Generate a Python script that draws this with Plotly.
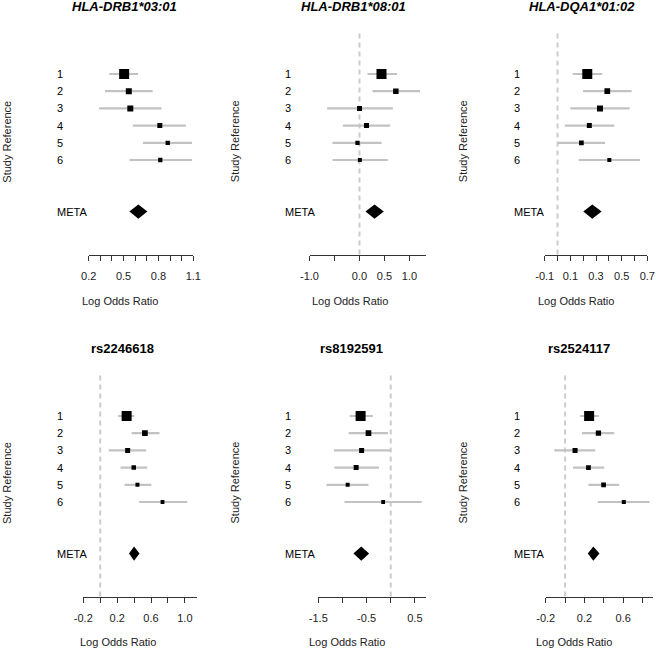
import plotly.graph_objects as go

W, H = 656, 650

# ---------------- data ----------------
titles = ["HLA-DRB1*03:01", "HLA-DRB1*08:01", "HLA-DQA1*01:02",
          "rs2246618", "rs8192591", "rs2524117"]
italic_title = [True, True, True, False, False, False]

study_labels = ["1", "2", "3", "4", "5", "6"]
meta_label = "META"
study_rows = [1, 2, 3, 4, 5, 6]
meta_row = 9

# panel 1: HLA-DRB1*03:01
p1_est = [0.505, 0.545, 0.558, 0.812, 0.880, 0.816]
p1_lo = [0.377, 0.340, 0.289, 0.579, 0.667, 0.551]
p1_hi = [0.625, 0.750, 0.827, 1.036, 1.089, 1.089]
p1_meta = [0.627, 0.550, 0.705]  # est, lo, hi

# panel 2: HLA-DRB1*08:01
p2_est = [0.44, 0.727, 0.0, 0.14, -0.04, 0.007]
p2_lo = [0.16, 0.26, -0.647, -0.333, -0.54, -0.54]
p2_hi = [0.75, 1.21, 0.667, 0.613, 0.44, 0.567]
p2_meta = [0.30, 0.12, 0.487]

# panel 3: HLA-DQA1*01:02
p3_est = [0.232, 0.388, 0.331, 0.248, 0.186, 0.404]
p3_lo = [0.118, 0.199, 0.100, 0.056, 0.004, 0.165]
p3_hi = [0.349, 0.578, 0.562, 0.443, 0.370, 0.643]
p3_meta = [0.271, 0.201, 0.344]

# panel 4: rs2246618
p4_est = [0.312, 0.528, 0.324, 0.396, 0.44, 0.736]
p4_lo = [0.212, 0.372, 0.10, 0.24, 0.288, 0.46]
p4_hi = [0.404, 0.70, 0.544, 0.556, 0.604, 1.028]
p4_meta = [0.40, 0.34, 0.464]

# panel 5: rs8192591
p5_est = [-0.624, -0.461, -0.603, -0.716, -0.892, -0.157]
p5_lo = [-0.85, -0.871, -1.175, -1.168, -1.33, -0.956]
p5_hi = [-0.369, -0.058, -0.002, -0.242, -0.461, 0.641]
p5_meta = [-0.61, -0.773, -0.447]

# panel 6: rs2524117
p6_est = [0.248, 0.344, 0.103, 0.241, 0.397, 0.606]
p6_lo = [0.156, 0.174, -0.11, 0.082, 0.241, 0.337]
p6_hi = [0.348, 0.507, 0.312, 0.404, 0.557, 0.872]
p6_meta = [0.291, 0.234, 0.355]

# axis ticks
p1_ticks = [0.2, 0.3, 0.4, 0.5, 0.6, 0.7, 0.8, 0.9, 1.0, 1.1]
p1_ticktext = ["0.2", "", "", "0.5", "", "", "0.8", "", "", "1.1"]
p2_ticks = [-1.0, -0.5, 0.0, 0.5, 1.0]
p2_ticktext = ["-1.0", "", "0.0", "0.5", "1.0"]
p3_ticks = [-0.1, 0.0, 0.1, 0.2, 0.3, 0.4, 0.5, 0.6, 0.7]
p3_ticktext = ["-0.1", "", "0.1", "", "0.3", "", "0.5", "", "0.7"]
p4_ticks = [-0.2, 0.0, 0.2, 0.4, 0.6, 0.8, 1.0]
p4_ticktext = ["-0.2", "", "0.2", "", "0.6", "", "1.0"]
p5_ticks = [-1.5, -1.0, -0.5, 0.0, 0.5]
p5_ticktext = ["-1.5", "", "-0.5", "", "0.5"]
p6_ticks = [-0.2, 0.0, 0.2, 0.4, 0.6, 0.8]
p6_ticktext = ["-0.2", "", "0.2", "", "0.6", ""]

x_ranges = [[0.2, 1.1], [-1.0, 1.33], [-0.1, 0.7], [-0.2, 1.14], [-1.5, 0.73], [-0.2, 0.91]]
null_value = 0.0

panels = [
    (p1_est, p1_lo, p1_hi, p1_meta, p1_ticks, p1_ticktext),
    (p2_est, p2_lo, p2_hi, p2_meta, p2_ticks, p2_ticktext),
    (p3_est, p3_lo, p3_hi, p3_meta, p3_ticks, p3_ticktext),
    (p4_est, p4_lo, p4_hi, p4_meta, p4_ticks, p4_ticktext),
    (p5_est, p5_lo, p5_hi, p5_meta, p5_ticks, p5_ticktext),
    (p6_est, p6_lo, p6_hi, p6_meta, p6_ticks, p6_ticktext),
]

# ---------------- styles / layout geometry (pixels) ----------------
box_sizes = [
    [10, 6, 6, 5, 4.3, 4.3],
    [10, 5.5, 5, 5, 4.3, 4],
    [10, 5.7, 6, 5, 4.7, 4],
    [10, 5.7, 5, 4.5, 4, 3.8],
    [10, 5.7, 5, 5, 4, 3.8],
    [10, 5.3, 5, 4.7, 4.7, 4],
]
x_dom_px = [(88.7, 193.3), (309.5, 426.0), (544.7, 647.3),
            (83.3, 196.7), (318.3, 426.0), (545.7, 653.3)]
y_dom_px = [(31.0, 254.6)] * 3 + [(373.0, 596.6)] * 3
label_left_px = [55, 283, 512, 55, 283, 512]
title_cx = [124, 353, 582, 122, 351, 579]
title_cy = [7, 7, 7, 348, 348, 348]
xlab_cx = [120, 350, 576, 118, 347, 574]
xlab_cy = [301, 301, 301, 642, 642, 642]
ylab_cx = [7, 234.5, 462.5, 7, 234.5, 462.5]
ylab_cy = [141.7, 141.7, 141.7, 483, 483, 483]
y_range = [11.5, -1.5]
diamond_half = 0.41

FONT = "Liberation Sans, Arial, Helvetica, sans-serif"
CI_COLOR = "#c2c2c2"
AX_COLOR = "#333333"

def px_x(p):
    return p / W

def px_y(p):
    return 1 - p / H

fig = go.Figure()
annotations = []
shapes = []

for i, (est, lo, hi, meta, ticks, ticktext) in enumerate(panels):
    k = "" if i == 0 else str(i + 1)
    xa, ya = "x" + k, "y" + k

    # confidence interval lines
    cx, cy = [], []
    for r, a, b in zip(study_rows, lo, hi):
        cx += [a, b, None]
        cy += [r, r, None]
    fig.add_trace(go.Scatter(x=cx, y=cy, mode="lines", xaxis=xa, yaxis=ya,
                             line=dict(color=CI_COLOR, width=2.2),
                             hoverinfo="skip", showlegend=False))
    # study boxes
    fig.add_trace(go.Scatter(x=est, y=study_rows, mode="markers", xaxis=xa, yaxis=ya,
                             marker=dict(symbol="square", size=box_sizes[i], color="black",
                                         opacity=1, line=dict(width=0)),
                             showlegend=False))
    # summary diamond
    m_est, m_lo, m_hi = meta
    fig.add_trace(go.Scatter(
        x=[m_lo, m_est, m_hi, m_est, m_lo],
        y=[meta_row, meta_row - diamond_half, meta_row, meta_row + diamond_half, meta_row],
        mode="lines", fill="toself", fillcolor="black", line=dict(width=0, color="black"),
        xaxis=xa, yaxis=ya, hoverinfo="skip", showlegend=False))

    # null reference line
    if x_ranges[i][0] <= null_value <= x_ranges[i][1]:
        shapes.append(dict(type="line", xref=xa, yref=ya + " domain",
                           x0=null_value, x1=null_value, y0=0, y1=1,
                           line=dict(color="#cccccc", width=2, dash="5px,4px"),
                           layer="below"))

    xd = x_dom_px[i]
    yd = y_dom_px[i]
    fig.update_layout(**{
        "xaxis" + k: dict(domain=[px_x(xd[0]), px_x(xd[1])], range=x_ranges[i],
                          anchor=ya, showline=True, linecolor=AX_COLOR, linewidth=1,
                          ticks="outside", ticklen=5, tickcolor=AX_COLOR, tickwidth=1,
                          tickvals=ticks, ticktext=ticktext, showgrid=False,
                          zeroline=False, ticklabelstandoff=6, automargin=False,
                          fixedrange=True,
                          tickfont=dict(size=11, color="#222222", family=FONT)),
        "yaxis" + k: dict(domain=[px_y(yd[1]), px_y(yd[0])], range=y_range,
                          anchor=xa, visible=False, showgrid=False, zeroline=False,
                          automargin=False, fixedrange=True),
    })

    # row labels
    for r, lab in zip(study_rows + [meta_row], study_labels + [meta_label]):
        annotations.append(dict(text=lab, xref="paper", yref=ya, x=px_x(label_left_px[i]),
                                y=r, xanchor="left", yanchor="middle", showarrow=False,
                                font=dict(size=11, color="black", family=FONT)))
    # title
    t = titles[i]
    t = "<b><i>%s</i></b>" % t if italic_title[i] else "<b>%s</b>" % t
    annotations.append(dict(text=t, xref="paper", yref="paper", x=px_x(title_cx[i]),
                            y=px_y(title_cy[i]), xanchor="center", yanchor="middle",
                            showarrow=False, font=dict(size=13, color="black", family=FONT)))
    # x label
    annotations.append(dict(text="Log Odds Ratio", xref="paper", yref="paper",
                            x=px_x(xlab_cx[i]), y=px_y(xlab_cy[i]), xanchor="center",
                            yanchor="middle", showarrow=False,
                            font=dict(size=11, color="#222222", family=FONT)))
    # y label
    annotations.append(dict(text="Study Reference", xref="paper", yref="paper",
                            x=px_x(ylab_cx[i]), y=px_y(ylab_cy[i]), xanchor="center",
                            yanchor="middle", textangle=-90, showarrow=False,
                            font=dict(size=11, color="#222222", family=FONT)))

fig.update_layout(width=W, height=H,
                  margin=dict(l=0, r=0, t=0, b=0, pad=0, autoexpand=False),
                  paper_bgcolor="white", plot_bgcolor="white",
                  annotations=annotations, shapes=shapes, showlegend=False,
                  font=dict(family=FONT), hovermode=False)

fig.write_html("out.html",
               config={"displayModeBar": False, "staticPlot": True},
               post_script="document.body.style.margin='0';document.body.style.padding='0';")
